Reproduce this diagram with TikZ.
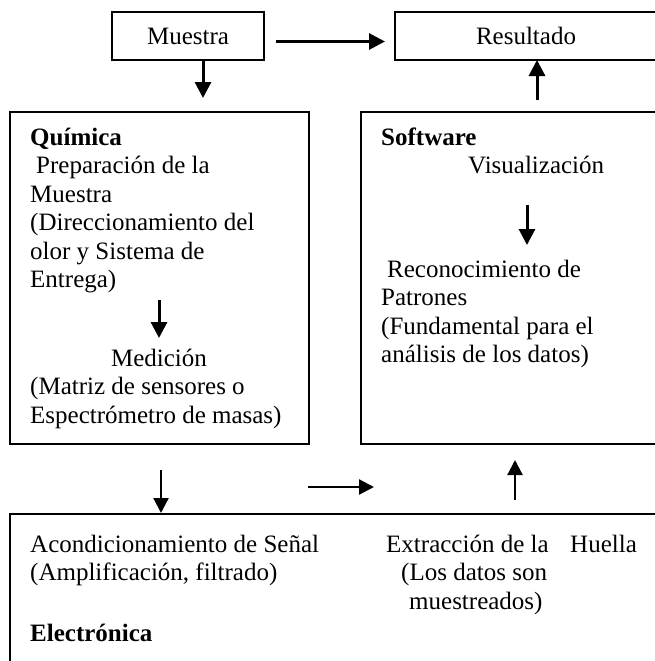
\documentclass[tikz,border=0pt]{standalone}
\usepackage{fontspec}
\setmainfont{Liberation Serif}
\usetikzlibrary{arrows.meta}
\begin{document}
\begin{tikzpicture}[x=1pt,y=-1pt,
  every node/.style={font=\fontsize{25}{28.5}\selectfont, inner sep=0pt},
  box/.style={draw, line width=2pt, inner sep=0pt},
  txt/.style={anchor=base west},
  bold/.style={anchor=base west, font=\fontsize{25}{28.5}\selectfont\bfseries},
  bigarr/.style={line width=3pt, -{Triangle[length=16pt,width=16pt]}},
  smallarr/.style={line width=2.2pt, -{Triangle[length=15pt,width=15pt]}}]
\useasboundingbox (0,0) rectangle (655,661);
\clip (0,0) rectangle (655,661);
\fill[white] (0,0) rectangle (655,661);

% boxes
\node[box, minimum width=152pt, minimum height=48pt] (muestra) at (188,36) {Muestra};
\node[box, minimum width=262pt, minimum height=48pt] (resultado) at (526,36) {Resultado};
\node[box, minimum width=299pt, minimum height=332pt] (quimica) at (159.5,278) {};
\node[box, minimum width=296pt, minimum height=332pt] (software) at (509,278) {};
\node[box, minimum width=647pt, minimum height=160pt] (electronica) at (333.5,594) {};

% Quimica text
\node[bold] (q0) at (30,145) {Química};
\node[txt] (q1) at (36,173.5) {Preparación de la};
\node[txt] (q2) at (30,202) {Muestra};
\node[txt] (q3) at (30,230.5) {(Direccionamiento del};
\node[txt] (q4) at (30,259) {olor y Sistema de};
\node[txt] (q5) at (30,287.5) {Entrega)};
\node[anchor=base] (q6) at (159,366.5) {Medición};
\node[txt] (q7) at (30,394.5) {(Matriz de sensores o};
\node[txt] (q8) at (30,423) {Espectrómetro de masas)};

% Software text
\node[bold] (s0) at (381,145) {Software};
\node[txt] (s1) at (468,173.5) {Visualización};
\node[txt] (s2) at (387,277) {Reconocimiento de};
\node[txt] (s3) at (381,305.5) {Patrones};
\node[txt] (s4) at (381,334) {(Fundamental para el};
\node[txt] (s5) at (381,362.5) {análisis de los datos)};

% Electronica text
\node[txt] (e1) at (30,552) {Acondicionamiento de Señal};
\node[txt] (e2) at (30,580.5) {(Amplificación, filtrado)};
\node[bold] (e3) at (30,641) {Electrónica};
\node[txt] (x1) at (386,552) {Extracción de la};
\node[txt] (x2) at (570,552) {Huella};
\node[txt] (x3) at (401,580.5) {(Los datos son};
\node[txt] (x4) at (409,609) {muestreados)};

% arrow end points
\coordinate (a1s) at (276,41.5);
\coordinate (a1e) at (385,41.5);
\coordinate (a2s) at (203,60);
\coordinate (a2e) at (203,98);
\coordinate (a3s) at (537,100);
\coordinate (a3e) at (537,60);
\coordinate (a4s) at (159,300);
\coordinate (a4e) at (159,338);
\coordinate (a5s) at (527,205);
\coordinate (a5e) at (527,245);
\coordinate (a6s) at (161,470);
\coordinate (a6e) at (161,513);
\coordinate (a7s) at (308,487);
\coordinate (a7e) at (374,487);
\coordinate (a8s) at (515,500);
\coordinate (a8e) at (515,460);

\draw[bigarr] (a1s) -- (a1e);
\draw[bigarr] (a2s) -- (a2e);
\draw[bigarr] (a3s) -- (a3e);
\draw[bigarr] (a4s) -- (a4e);
\draw[bigarr] (a5s) -- (a5e);
\draw[smallarr] (a6s) -- (a6e);
\draw[smallarr] (a7s) -- (a7e);
\draw[smallarr] (a8s) -- (a8e);
\end{tikzpicture}
\end{document}
